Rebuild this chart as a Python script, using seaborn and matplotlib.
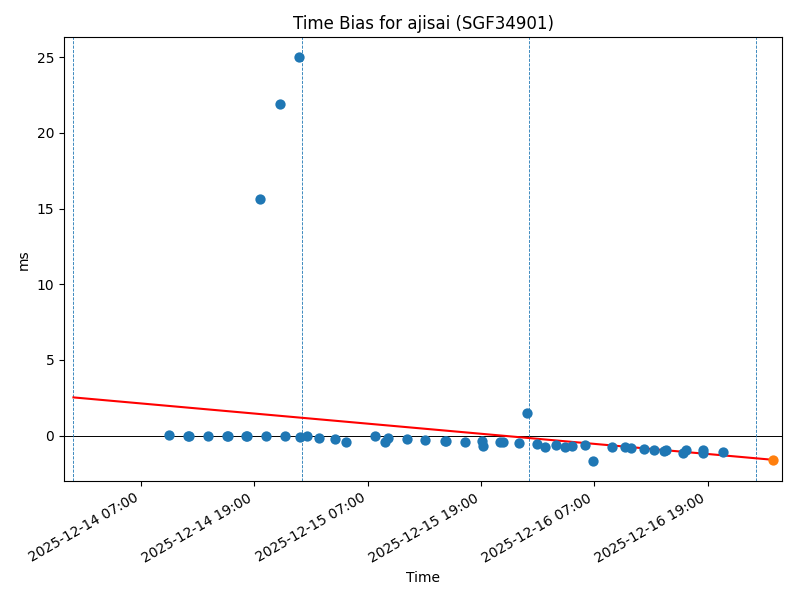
import numpy as np
import pandas as pd
import seaborn as sns
import matplotlib
matplotlib.use("Agg")
import matplotlib.pyplot as plt
import matplotlib.dates as mdates

# observed time bias (ms)
obs_times = [
    "2025-12-14 09:58", "2025-12-14 11:59", "2025-12-14 12:04", "2025-12-14 14:06",
    "2025-12-14 16:07", "2025-12-14 16:12", "2025-12-14 18:10", "2025-12-14 18:15",
    "2025-12-14 19:40", "2025-12-14 20:14", "2025-12-14 21:41", "2025-12-14 22:17",
    "2025-12-14 23:42", "2025-12-14 23:48", "2025-12-15 00:37", "2025-12-15 01:49",
    "2025-12-15 03:31", "2025-12-15 04:41", "2025-12-15 07:45", "2025-12-15 08:53",
    "2025-12-15 09:08", "2025-12-15 11:08", "2025-12-15 13:07", "2025-12-15 15:11",
    "2025-12-15 15:16", "2025-12-15 17:20", "2025-12-15 19:08", "2025-12-15 19:16",
    "2025-12-15 21:04", "2025-12-15 21:22", "2025-12-15 23:05", "2025-12-15 23:52",
    "2025-12-16 00:58", "2025-12-16 01:44", "2025-12-16 03:00", "2025-12-16 03:51",
    "2025-12-16 04:40", "2025-12-16 06:00", "2025-12-16 06:49", "2025-12-16 08:50",
    "2025-12-16 10:14", "2025-12-16 10:53", "2025-12-16 12:15", "2025-12-16 13:17",
    "2025-12-16 14:22", "2025-12-16 14:33", "2025-12-16 16:23", "2025-12-16 16:42",
    "2025-12-16 18:28", "2025-12-16 18:28", "2025-12-16 20:37",
]
obs_bias = [
    0.02, 0.0, -0.02, 0.01,
    0.0, -0.02, -0.05, -0.03,
    15.65, 0.0, 21.87, 0.0,
    24.98, -0.07, 0.0, -0.15,
    -0.2, -0.42, 0.0, -0.42,
    -0.13, -0.2, -0.31, -0.35,
    -0.33, -0.44, -0.33, -0.68,
    -0.4, -0.4, -0.46, 1.52,
    -0.53, -0.75, -0.62, -0.75,
    -0.68, -0.6, -1.67, -0.75,
    -0.77, -0.81, -0.88, -0.93,
    -1.01, -0.95, -1.14, -0.93,
    -0.97, -1.17, -1.08,
]

# fitted trend and prediction
trend_times = ["2025-12-13 23:52", "2025-12-17 01:55"]
trend_bias = [2.53, -1.59]
pred_time = ["2025-12-17 01:55"]
pred_bias = [-1.59]

# window boundaries
boundaries = ["2025-12-13 23:52", "2025-12-15 00:01", "2025-12-16 00:04", "2025-12-17 00:07"]

df = pd.DataFrame({"time": pd.to_datetime(obs_times), "bias": obs_bias})
trend = pd.DataFrame({"time": pd.to_datetime(trend_times), "bias": trend_bias})
pred = pd.DataFrame({"time": pd.to_datetime(pred_time), "bias": pred_bias})

fig, ax = plt.subplots(figsize=(8, 6), dpi=100)

sns.scatterplot(data=df, x="time", y="bias", ax=ax, color="C0", s=55, linewidth=0, zorder=3)
sns.lineplot(data=trend, x="time", y="bias", ax=ax, color="red", linewidth=1.5, zorder=2)
sns.scatterplot(data=pred, x="time", y="bias", ax=ax, color="C1", s=55, linewidth=0, zorder=4)

ax.axhline(0, color="black", linewidth=0.7, zorder=1)
for b in pd.to_datetime(boundaries):
    ax.axvline(b, color="C0", linestyle="--", linewidth=0.6, zorder=1)

t0 = pd.to_datetime(boundaries[0]) - pd.Timedelta(hours=1)
t1 = pd.to_datetime(pred_time[0]) + pd.Timedelta(hours=1)
ax.set_xlim(t0, t1)

ax.xaxis.set_major_locator(mdates.HourLocator(byhour=[7, 19]))
ax.xaxis.set_major_formatter(mdates.DateFormatter("%Y-%m-%d %H:%M"))
fig.autofmt_xdate()

ax.set_title("Time Bias for ajisai (SGF34901)")
ax.set_xlabel("Time")
ax.set_ylabel("ms")

fig.subplots_adjust(left=0.080, right=0.978, top=0.938, bottom=0.198)
plt.savefig("out.png")
